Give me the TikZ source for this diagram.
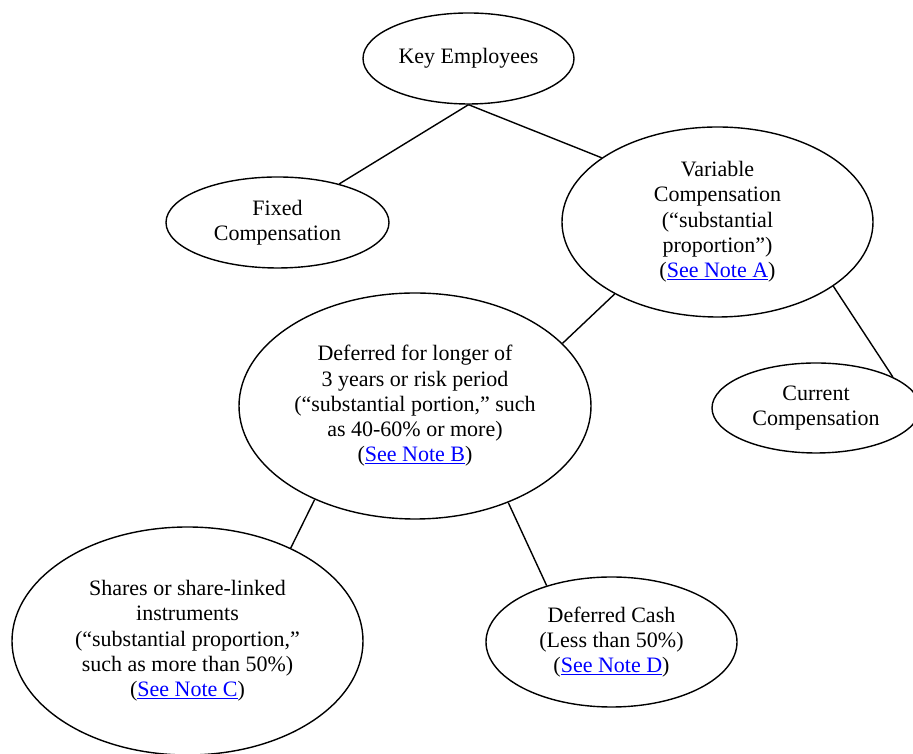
\documentclass[tikz,border=0pt]{standalone}
\usepackage{fontspec}
\setmainfont{Liberation Serif}
\usetikzlibrary{shapes.geometric}
\newcommand\seenote[1]{(\textcolor{blue}{\underline{See Note #1}})}
\begin{document}
\begin{tikzpicture}[x=1pt,y=1pt,
  bub/.style={ellipse, draw, line width=1.4pt, inner sep=0pt, align=center,
    font=\fontsize{22}{25.3}\selectfont},
  conn/.style={line width=1.4pt}]
\useasboundingbox (0,0) rectangle (913,754);
\node[bub, minimum width=211, minimum height=91] (key) at (468.5,695.5) {Key Employees};
\node[bub, minimum width=223, minimum height=91] (fixed) at (277.5,531.5) {Fixed\\Compensation};
\node[bub, minimum width=311, minimum height=190] (var) at (717.5,532) {Variable\\Compensation\\(“substantial\\proportion”)\\\seenote{A}};
\node[bub, minimum width=208, minimum height=90] (cur) at (816,346) {Current\\Compensation};
\node[bub, minimum width=352, minimum height=226] (def) at (415,348) {Deferred for longer of\\3 years or risk period\\(“substantial portion,” such\\as 40-60\% or more)\\\seenote{B}};
\node[bub, minimum width=351, minimum height=228] (shares) at (187.5,113) {Shares or share-linked\\instruments\\(“substantial proportion,”\\such as more than 50\%)\\\seenote{C}};
\node[bub, minimum width=251, minimum height=130] (dcash) at (611.5,112) {Deferred Cash\\(Less than 50\%)\\\seenote{D}};
\draw[conn] (key.south) -- (fixed.32);
\draw[conn] (key.south) -- (var.151.4);
\draw[conn] (var.215.7) -- (def.23.2);
\draw[conn] (var.-29.4) -- (cur.22.5);
\draw[conn] (def.223.6) -- (shares.42.9);
\draw[conn] (def.-46.2) -- (dcash.139.7);
\end{tikzpicture}
\end{document}
